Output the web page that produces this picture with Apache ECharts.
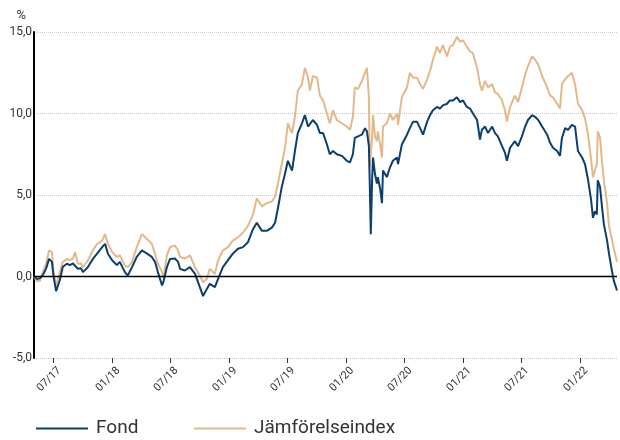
<!DOCTYPE html>
<html>
<head>
<meta charset="utf-8">
<script src="https://cdn.jsdelivr.net/npm/echarts@6.0.0/dist/echarts.min.js"></script>
<style>
html,body{margin:0;padding:0;background:#fff;}
#chart{width:620px;height:440px;}
</style>
</head>
<body>
<div id="chart"></div>
<script>
const dates = [
'2017-05-01','2017-05-11','2017-05-20','2017-05-29','2017-06-08','2017-06-17','2017-06-26','2017-07-01','2017-07-09','2017-07-21',
'2017-07-30','2017-08-12','2017-08-21','2017-08-31','2017-09-06','2017-09-15','2017-09-25','2017-10-01','2017-10-16','2017-11-01',
'2017-11-14','2017-11-30','2017-12-09','2017-12-18','2017-12-31','2018-01-15','2018-01-24','2018-02-09','2018-02-18','2018-03-03',
'2018-03-18','2018-04-03','2018-04-19','2018-05-04','2018-05-14','2018-05-23','2018-06-05','2018-06-09','2018-06-20','2018-06-30',
'2018-07-06','2018-07-15','2018-07-25','2018-07-31','2018-08-15','2018-08-31','2018-09-16','2018-10-01','2018-10-11','2018-10-23',
'2018-11-01','2018-11-17','2018-11-27','2018-12-12','2018-12-28','2019-01-12','2019-01-28','2019-02-13','2019-02-28','2019-03-16',
'2019-03-28','2019-04-13','2019-04-28','2019-05-14','2019-05-24','2019-06-02','2019-06-14','2019-06-24','2019-07-03','2019-07-16',
'2019-07-25','2019-08-03','2019-08-16','2019-08-25','2019-09-04','2019-09-10','2019-09-19','2019-10-02','2019-10-11','2019-10-21',
'2019-11-02','2019-11-11','2019-11-21','2019-12-03','2019-12-19','2020-01-03','2020-01-13','2020-01-22','2020-01-28','2020-02-07',
'2020-02-19','2020-02-29','2020-03-06','2020-03-12','2020-03-15','2020-03-18','2020-03-22','2020-03-25','2020-03-31','2020-04-06',
'2020-04-09','2020-04-16','2020-04-22','2020-04-25','2020-05-07','2020-05-17','2020-05-26','2020-06-08','2020-06-11','2020-06-23',
'2020-07-09','2020-07-18','2020-07-28','2020-08-09','2020-08-19','2020-08-28','2020-09-10','2020-09-19','2020-09-28','2020-10-11',
'2020-10-20','2020-10-29','2020-11-11','2020-11-20','2020-11-30','2020-12-12','2020-12-22','2020-12-31','2021-01-12','2021-01-22',
'2021-01-31','2021-02-13','2021-02-22','2021-02-28','2021-03-10','2021-03-19','2021-04-01','2021-04-10','2021-04-19','2021-05-02',
'2021-05-11','2021-05-17','2021-05-27','2021-06-11','2021-06-21','2021-07-03','2021-07-13','2021-07-22','2021-08-04','2021-08-13',
'2021-08-23','2021-09-04','2021-09-20','2021-09-29','2021-10-08','2021-10-21','2021-10-30','2021-11-05','2021-11-15','2021-11-24',
'2021-12-06','2021-12-16','2021-12-25','2022-01-07','2022-01-16','2022-01-25','2022-02-04','2022-02-10','2022-02-16','2022-02-22',
'2022-02-25','2022-03-04','2022-03-10','2022-03-16','2022-03-26','2022-04-01','2022-04-10','2022-04-16','2022-04-26'
];
const fond = [
0.0,-0.15,-0.1,0.1,0.5,1.08,0.9,0.0,-0.9,-0.2,
0.6,0.78,0.7,0.8,0.9,0.47,0.5,0.27,0.57,1.08,
1.4,1.8,2.0,1.4,1.0,0.7,0.9,0.27,0.06,0.57,
1.2,1.6,1.4,1.2,0.9,0.27,-0.55,-0.35,0.57,1.08,
1.0,1.1,0.9,0.47,0.37,0.57,0.16,-0.65,-1.2,-0.76,
-0.45,-0.65,-0.14,0.57,1.0,1.4,1.7,1.8,2.1,2.9,
3.3,2.8,2.8,3.0,3.3,4.2,5.5,6.3,7.1,6.5,
7.7,8.8,9.4,9.9,9.2,9.2,9.6,9.3,8.8,8.8,
8.1,7.5,7.7,7.5,7.4,7.1,7.0,7.5,8.5,8.6,
8.7,9.1,8.9,8.0,5.5,2.6,5.9,7.3,6.3,5.7,
6.1,5.4,4.5,6.5,6.1,6.7,7.1,7.3,6.9,8.1,
8.7,9.1,9.5,9.5,9.1,8.7,9.5,9.9,10.2,10.4,
10.3,10.5,10.6,10.8,10.8,11.0,10.7,10.8,10.4,10.3,
10.0,9.6,8.4,9.0,9.2,8.8,9.2,8.8,8.6,8.0,
7.6,7.1,7.9,8.3,8.0,8.6,9.2,9.6,9.9,9.8,
9.6,9.2,8.7,8.2,7.9,7.7,7.4,8.5,9.1,9.0,
9.3,9.2,7.7,7.3,6.9,6.0,4.7,3.6,4.0,3.8,
5.9,5.5,4.3,3.2,2.2,1.4,0.37,-0.25,-0.86
];
const jamforelseindex = [
0.0,-0.3,-0.25,0.3,0.8,1.6,1.5,0.2,-0.55,0.3,
0.9,1.08,1.0,1.1,1.5,0.78,0.8,0.57,0.98,1.6,
1.99,2.2,2.6,2.0,1.5,1.2,1.3,0.67,0.57,0.9,
1.8,2.6,2.3,2.0,1.4,0.78,0.27,-0.1,1.3,1.8,
1.7,1.9,1.6,1.2,1.1,1.3,0.57,0.06,-0.35,-0.14,
0.47,0.16,1.0,1.6,1.8,2.2,2.4,2.7,3.1,3.8,
4.8,4.3,4.5,4.6,4.9,5.7,6.9,7.9,9.4,8.8,
9.8,11.4,11.8,12.8,12.2,11.4,12.3,12.2,11.1,10.8,
10.0,9.4,10.2,9.6,9.4,9.2,9.0,9.8,11.6,11.5,
12.0,12.5,12.8,11.0,6.7,7.5,8.5,9.9,8.6,8.3,
8.9,8.1,7.3,9.2,9.4,10.0,9.6,10.0,9.3,11.0,
11.6,12.5,12.2,12.2,11.8,11.5,12.1,12.6,13.3,14.1,
13.7,14.2,13.5,14.1,14.2,14.7,14.4,14.5,14.1,13.8,
13.7,12.8,11.8,11.4,12.0,11.6,11.8,11.3,11.2,10.8,
10.2,9.5,10.4,11.1,10.7,11.6,12.4,12.9,13.5,13.3,
13.0,12.3,11.6,11.1,11.0,10.6,10.3,11.8,12.1,12.3,
12.5,11.8,10.6,10.2,9.7,8.8,7.2,6.1,6.5,6.9,
8.9,8.5,7.1,5.9,4.5,3.1,2.3,1.7,0.9
];
const seriesNames = ['Fond', 'Jämförelseindex'];
const yTicks = [-5, 0, 5, 10, 15];

const FONT = 'Roboto, "Liberation Sans", sans-serif';
function toTs(s){ const p = s.split('-'); return new Date(+p[0], +p[1]-1, +p[2]).getTime(); }
const DAY = 86400000;

const chart = echarts.init(document.getElementById('chart'), null, {renderer:'canvas'});
chart.setOption({
  animation: false,
  backgroundColor: '#ffffff',
  grid: {left: 34, right: 3, top: 32, bottom: 82, containLabel: false},
  xAxis: {
    type: 'time',
    min: toTs(dates[0]),
    max: toTs(dates[dates.length-1]),
    minInterval: 175*DAY,
    maxInterval: 190*DAY,
    axisLine: {show: false, onZero: false},
    axisTick: {show: true, length: 5, lineStyle: {color: '#333', width: 1}},
    splitLine: {show: false},
    axisLabel: {
      rotate: 45, fontSize: 11, color: '#333', fontFamily: FONT, margin: 5,
      verticalAlign: 'top', padding: [3, 0, 0, 0],
      showMinLabel: false, showMaxLabel: false,
      formatter: function(v){ const d = new Date(v); const m = d.getMonth()+1; const y = d.getFullYear()%100; return (m<10?'0':'')+m+'/'+(y<10?'0':'')+y; }
    }
  },
  yAxis: {
    type: 'value', min: yTicks[0], max: yTicks[yTicks.length-1], interval: 5,
    name: '%', nameLocation: 'end', nameGap: 10,
    nameTextStyle: {align: 'right', padding: [0, 8, 0, 0], fontSize: 13, color: '#333', fontFamily: FONT},
    axisLine: {show: true, lineStyle: {color: '#000', width: 2}},
    axisTick: {show: false},
    axisLabel: {fontSize: 12, color: '#333', margin: 2, fontFamily: FONT,
      formatter: function(v){ return v.toFixed(1).replace('.', ','); }},
    splitLine: {show: true, lineStyle: {color: '#c8c8c8', type: [1, 1], width: 1}}
  },
  legend: [
    {data: [seriesNames[0]], left: 36, top: 419, padding: 0, itemWidth: 52, itemHeight: 14, icon: 'path://M0,6 L52,6 L52,8 L0,8 Z',
     textStyle: {fontSize: 19, color: '#333', fontFamily: FONT, padding: [0,0,0,3]}, itemGap: 8},
    {data: [seriesNames[1]], left: 194, top: 419, padding: 0, itemWidth: 52, itemHeight: 14, icon: 'path://M0,6 L52,6 L52,8 L0,8 Z',
     textStyle: {fontSize: 19, color: '#333', fontFamily: FONT, padding: [0,0,0,3]}, itemGap: 8}
  ],
  series: [
    {
      name: seriesNames[1], type: 'line', symbol: 'none', showSymbol: false,
      data: dates.map((d,i)=>[toTs(d), jamforelseindex[i]]),
      lineStyle: {color: '#e3b98a', width: 2}, itemStyle: {color: '#e3b98a'},
      z: 2,
      markLine: {silent: true, symbol: ['none','none'], label: {show: false},
        lineStyle: {color: '#000', type: 'solid', width: 1.3}, data: [{yAxis: 0}]}
    },
    {
      name: seriesNames[0], type: 'line', symbol: 'none', showSymbol: false,
      data: dates.map((d,i)=>[toTs(d), fond[i]]),
      lineStyle: {color: '#0b3f6d', width: 2}, itemStyle: {color: '#0b3f6d'},
      z: 3
    }
  ]
});
</script>
</body>
</html>
